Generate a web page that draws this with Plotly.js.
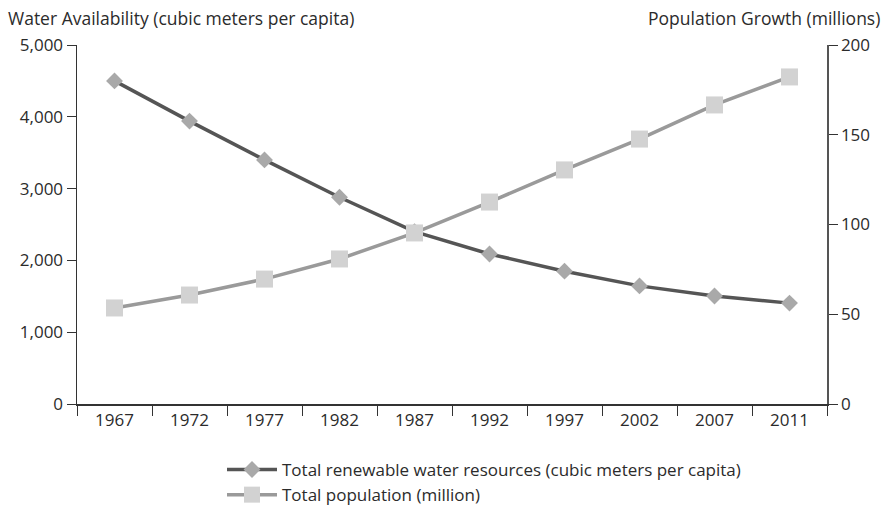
<!DOCTYPE html>
<html><head><meta charset="utf-8">
<script src="https://cdn.plot.ly/plotly-3.0.1.min.js"></script>
<style>body{margin:0;background:#fff}#c{width:889px;height:510px}</style>
</head><body><div id="c"></div>
<script>
const years = ["1967","1972","1977","1982","1987","1992","1997","2002","2007","2011"];
const water = [4500, 3940, 3400, 2880, 2400, 2090, 1850, 1645, 1505, 1405];
const population = [53.5, 60.7, 69.6, 80.8, 95.3, 112.5, 130.4, 147.6, 166.6, 182.2];
const leftTicks = [0, 1000, 2000, 3000, 4000, 5000];
const rightTicks = [0, 50, 100, 150, 200];

const font = {family: "'Open Sans', sans-serif", size: 17, color: "#2b2b2b"};
const titleFont = {family: "'Open Sans', sans-serif", size: 17.5, color: "#2b2b2b"};
const traces = [
  {x: years, y: water, name: "Total renewable water resources (cubic meters per capita)",
   type: "scatter", mode: "lines+markers", yaxis: "y",
   line: {color: "#555555", width: 3.5},
   marker: {symbol: "diamond", size: 13, color: "#a9a9a9"}},
  {x: years, y: population, name: "Total population (million)",
   type: "scatter", mode: "lines+markers", yaxis: "y2",
   line: {color: "#9a9a9a", width: 3.5},
   marker: {symbol: "square", size: 17, color: "#d2d2d2"}}
];
const layout = {
  width: 889, height: 510,
  margin: {l: 77, r: 62, t: 45, b: 106, autoexpand: false},
  paper_bgcolor: "#fff", plot_bgcolor: "#fff",
  font: font, showlegend: true,
  legend: {orientation: "v", xref: "container", yref: "container",
           x: 222 / 889, xanchor: "left", y: 1 - 452 / 510, yanchor: "top",
           font: font, tracegroupgap: 0, itemwidth: 50, bgcolor: "rgba(0,0,0,0)"},
  xaxis: {type: "category", range: [-0.5, 9.5], tickson: "boundaries", ticks: "outside", ticklen: 10,
          tickcolor: "#333", linecolor: "#333", linewidth: 1.5, showline: true,
          showgrid: false, zeroline: false, tickfont: font, automargin: false},
  yaxis: {range: [0, 5000], tickvals: leftTicks, tickformat: ",d", ticks: "outside", ticklen: 9,
          tickcolor: "#333", linecolor: "#333", linewidth: 1.5, showline: true,
          showgrid: false, zeroline: false, tickfont: font, automargin: false},
  yaxis2: {range: [0, 200], tickvals: rightTicks, overlaying: "y", side: "right",
           ticks: "outside", ticklen: 9, tickcolor: "#333", linecolor: "#555", linewidth: 1.5,
           showline: true, showgrid: false, zeroline: false, tickfont: font, automargin: false},
  annotations: [
    {text: "Water Availability (cubic meters per capita)", xref: "paper", yref: "paper",
     x: -0.095, y: 1 + 27 / 359, xanchor: "left", yanchor: "middle", showarrow: false, font: titleFont},
    {text: "Population Growth (millions)", xref: "paper", yref: "paper",
     x: 1.073, y: 1 + 27 / 359, xanchor: "right", yanchor: "middle", showarrow: false, font: titleFont}
  ]
};
Plotly.newPlot("c", traces, layout, {displayModeBar: false, staticPlot: true});
</script></body></html>
